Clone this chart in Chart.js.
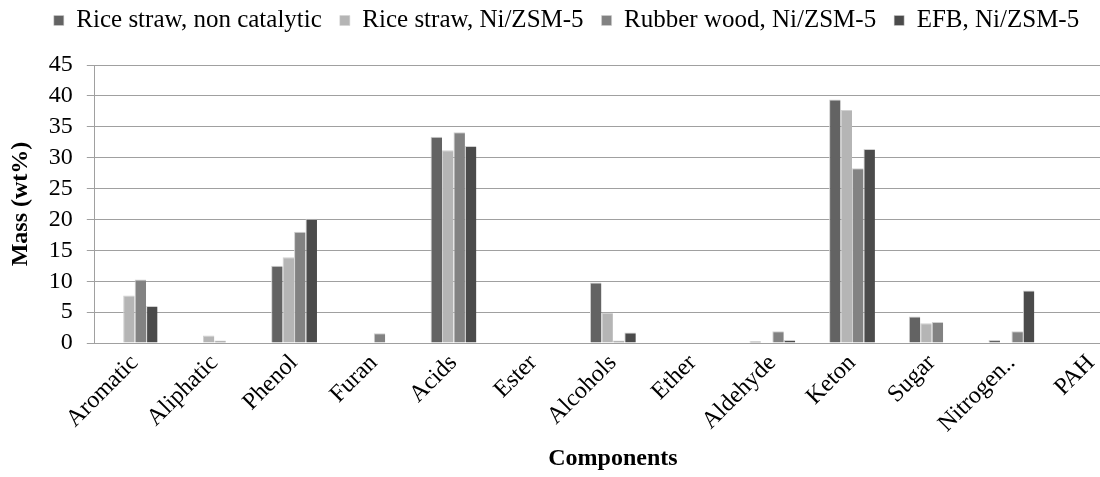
<!DOCTYPE html>
<html>
<head>
<meta charset="utf-8">
<script src="https://cdn.jsdelivr.net/npm/chart.js@4/dist/chart.umd.min.js"></script>
<style>
  html, body { margin: 0; padding: 0; background: #fff; overflow: hidden; }
  #wrap { width: 1135px; height: 477px; }
</style>
</head>
<body>
<div id="wrap"><canvas id="chart" width="1135" height="477"></canvas></div>
<script>
// categories on the x axis
const components = ['Aromatic', 'Aliphatic', 'Phenol', 'Furan', 'Acids', 'Ester', 'Alcohols',
  'Ether', 'Aldehyde', 'Keton', 'Sugar', 'Nitrogen..', 'PAH'];

// series (wt%)
const riceNonCat   = [0, 0, 12.5, 0, 33.4, 0, 9.8, 0, 0.3, 39.4, 4.3, 0.5, 0];
const riceNi       = [7.7, 1.2, 13.9, 0, 31.2, 0, 4.9, 0, 0, 37.7, 3.2, 0, 0];
const rubberNi     = [10.3, 0.4, 18.0, 1.6, 34.1, 0, 0.4, 0, 1.9, 28.3, 3.4, 1.9, 0];
const efbNi        = [6.0, 0, 20.1, 0, 31.9, 0, 1.7, 0, 0.5, 31.4, 0, 8.5, 0];

const seriesNames = ['Rice straw, non catalytic', 'Rice straw, Ni/ZSM-5', 'Rubber wood, Ni/ZSM-5', 'EFB, Ni/ZSM-5'];
const seriesColors = ['#636363', '#b5b5b5', '#828282', '#4b4b4b'];

const yTicks = [0, 5, 10, 15, 20, 25, 30, 35, 40, 45];

const serif = '"Liberation Serif", "Times New Roman", serif';

// extra room under the legend, and legend pulled up a bit
const legendGap = {
  id: 'legendGap',
  beforeInit(chart) {
    const origFit = chart.legend.fit;
    chart.legend.fit = function () {
      origFit.bind(chart.legend)();
      this.height += 12;
    };
  },
  afterLayout(chart) {
    chart.legend.top -= 10;
  }
};

const ctx = document.getElementById('chart').getContext('2d');
new Chart(ctx, {
  type: 'bar',
  data: {
    labels: components,
    datasets: [riceNonCat, riceNi, rubberNi, efbNi].map((d, i) => ({
      label: seriesNames[i],
      data: d,
      backgroundColor: seriesColors[i],
      borderColor: '#d0d0d0',
      borderWidth: { top: 1, left: 1, right: 0, bottom: 0 },
      barPercentage: 1,
      categoryPercentage: 0.575
    }))
  },
  options: {
    responsive: false,
    animation: false,
    layout: { padding: { left: 2, right: 4, top: 0, bottom: 4 } },
    plugins: {
      tooltip: { enabled: false },
      legend: {
        position: 'top',
        labels: {
          font: { family: serif, size: 25 },
          color: '#000',
          boxWidth: 10,
          boxHeight: 10,
          padding: 18
        }
      }
    },
    scales: {
      x: {
        grid: { display: false, drawTicks: false },
        border: { display: true, color: '#a0a0a0', width: 1 },
        ticks: {
          font: { family: serif, size: 24 },
          color: '#000',
          maxRotation: 45,
          minRotation: 45,
          autoSkip: false,
          padding: 6
        },
        title: {
          display: true,
          text: 'Components',
          font: { family: serif, size: 24, weight: 'bold' },
          color: '#000',
          padding: { top: 0, bottom: 0 }
        }
      },
      y: {
        min: 0,
        max: 45,
        afterBuildTicks: axis => { axis.ticks = yTicks.map(v => ({ value: v })); },
        grid: { color: '#a0a0a0', lineWidth: 1, drawTicks: true, tickLength: 8 },
        border: { display: true, color: '#a0a0a0', width: 1 },
        ticks: {
          font: { family: serif, size: 24 },
          color: '#000',
          autoSkip: false,
          padding: 14
        },
        title: {
          display: true,
          text: 'Mass (wt%)',
          font: { family: serif, size: 24, weight: 'bold' },
          color: '#000',
          padding: { bottom: 0 }
        }
      }
    }
  },
  plugins: [legendGap]
});
</script>
</body>
</html>
